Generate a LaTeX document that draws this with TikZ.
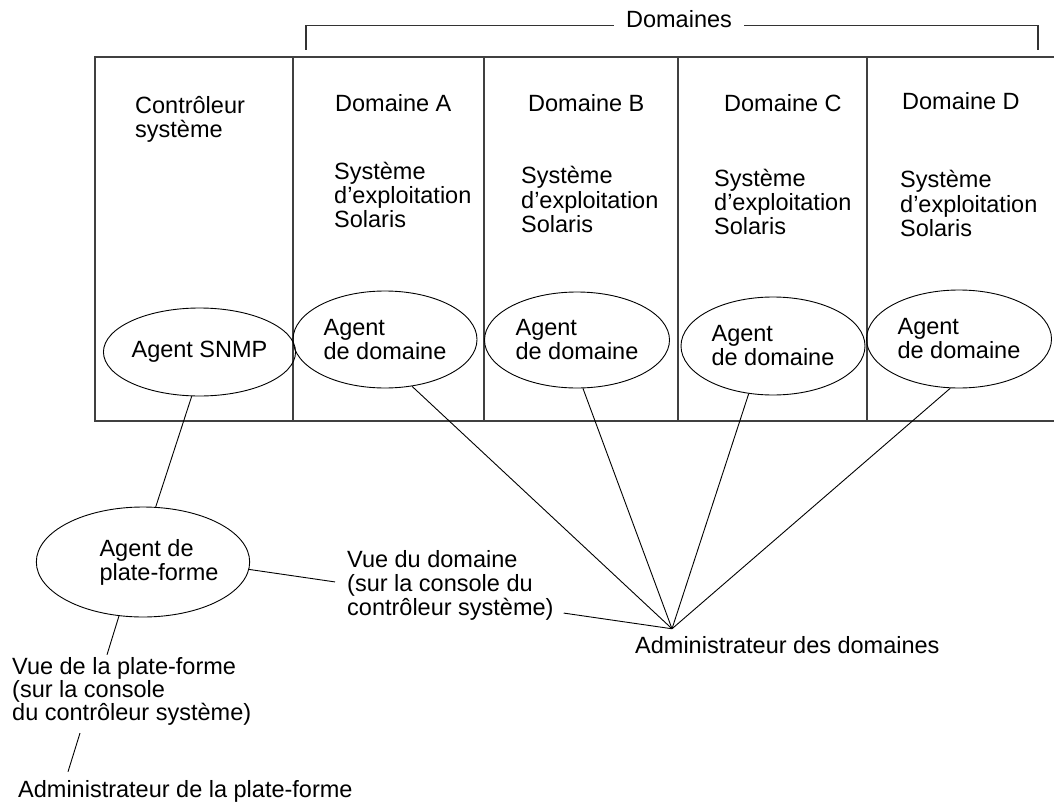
\documentclass[tikz,border=0pt]{standalone}
\usepackage{fontspec}
\setmainfont{Liberation Sans}
\usetikzlibrary{shapes.geometric}
\begin{document}
\begin{tikzpicture}[x=1pt,y=-1pt,
  txt/.style={font=\fontsize{23.5}{24}\selectfont, inner sep=0pt, align=left},
  agent/.style={ellipse, draw, line width=0.9pt, inner sep=0pt,
                font=\fontsize{23.5}{24}\selectfont, align=left},
  wire/.style={line width=0.9pt},
  frame/.style={line width=1.5pt, draw=black!75},
  bracket/.style={line width=1.3pt, draw=black!80}]
\useasboundingbox (0,0) rectangle (1054,805);
% frame of the cabinet
\draw[frame] (1054,57) -- (95,57) -- (95,421) -- (1054,421);
\foreach \x in {293,484,678,867} \draw[frame] (\x,57) -- (\x,421);
% bracket "Domaines"
\node[txt, inner xsep=12pt, anchor=base] (doms) at (679,28) {Domaines};
\coordinate (bl) at (306,50);
\coordinate (br) at (1038,50);
\draw[bracket] (bl) |- (doms.mid west);
\draw[bracket] (doms.mid east) -| (br);
% column headings (anchor = baseline of the last line)
\node[txt, anchor=base west] (ctrl) at (135,138) {Contrôleur\\système};
\node[txt, anchor=base west] (domA) at (335,112) {Domaine A};
\node[txt, anchor=base west] (domB) at (528,112) {Domaine B};
\node[txt, anchor=base west] (domC) at (724,112) {Domaine C};
\node[txt, anchor=base west] (domD) at (902,110) {Domaine D};
\node[txt, anchor=base west] (osA) at (334,227) {Système\\d’exploitation\\Solaris};
\node[txt, anchor=base west] (osB) at (521,232) {Système\\d’exploitation\\Solaris};
\node[txt, anchor=base west] (osC) at (714,234) {Système\\d’exploitation\\Solaris};
\node[txt, anchor=base west] (osD) at (900,236) {Système\\d’exploitation\\Solaris};
% agents
\node[agent, minimum width=165pt, minimum height=88pt] (snmp) at (199.5,352) {Agent SNMP};
\node[agent, minimum width=184pt, minimum height=97pt] (agA) at (385,339.5) {Agent\\de domaine};
\node[agent, minimum width=185pt, minimum height=96pt] (agB) at (577,340) {Agent\\de domaine};
\node[agent, minimum width=184pt, minimum height=98pt] (agC) at (773,346) {Agent\\de domaine};
\node[agent, minimum width=185pt, minimum height=98pt] (agD) at (959,339) {Agent\\de domaine};
\node[agent, minimum width=208pt, minimum height=110pt] (plat) at (143,562)
  {\hspace*{32pt}Agent de\\\hspace*{32pt}plate-forme};
% lower texts
\node[txt, anchor=base west] (vdd) at (347,615) {Vue du domaine\\(sur la console du\\contrôleur système)};
\node[txt, anchor=base west] (admd) at (635,653) {Administrateur des domaines};
\node[txt, anchor=base west, font=\fontsize{23.5}{23}\selectfont] (vdp) at (12,720)
  {Vue de la plate-forme\\(sur la console\\du contrôleur système)};
\node[txt, anchor=base west] (admp) at (18,797) {Administrateur de la plate-forme};
\coordinate (hub) at ([shift={(37pt,7pt)}]admd.north west);
% connectors
\draw[wire] (snmp.260) -- (plat.77);
\draw[wire] (agA.-60) -- (hub);
\draw[wire] (agB.-83) -- (hub);
\draw[wire] (agC.-117) -- (hub);
\draw[wire] (agD.-100) -- (hub);
\draw[wire] (plat.-4) -- ([shift={(-12pt,3pt)}]vdd.west);
\draw[wire] ([shift={(10pt,7pt)}]vdd.south east) -- (hub);
\draw[wire] (plat.-114) -- ([shift={(95pt,2pt)}]vdp.north west);
\draw[wire] ([shift={(68pt,-8pt)}]vdp.south west) -- ([shift={(50pt,8pt)}]admp.north west);
\end{tikzpicture}
\end{document}
